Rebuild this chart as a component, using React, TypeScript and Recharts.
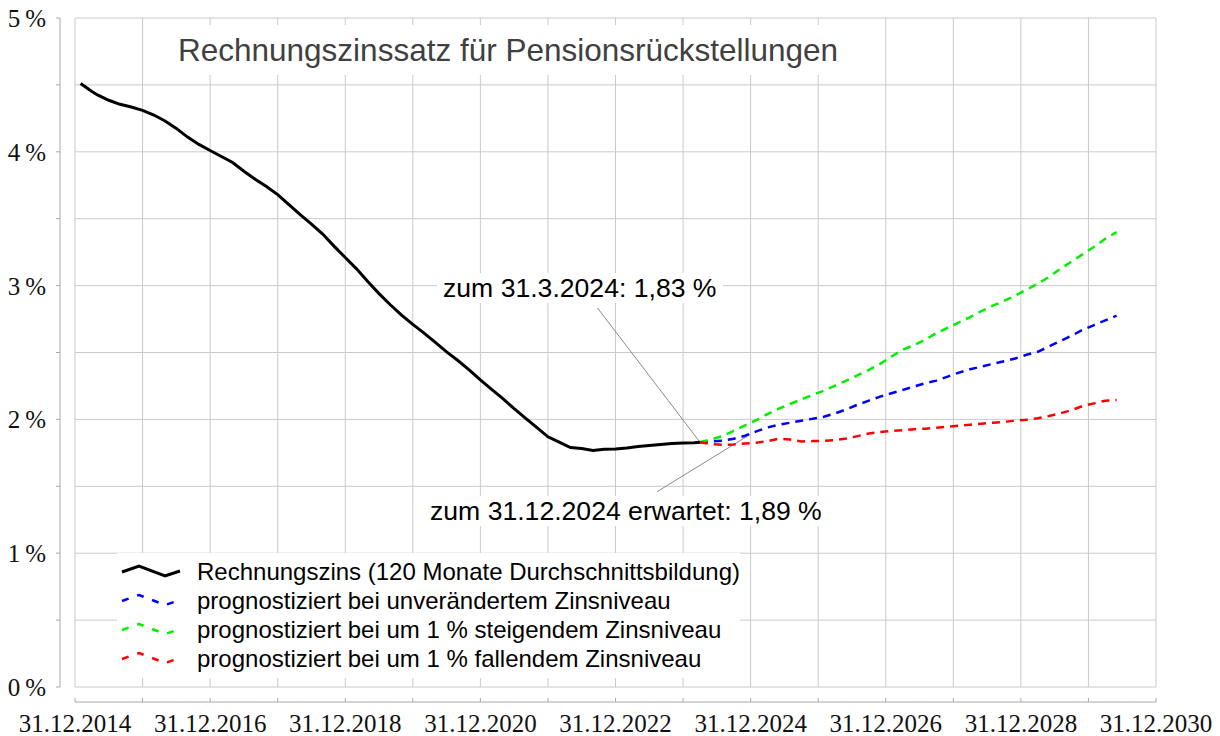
import { Legend, Line, LineChart, ReferenceLine, XAxis, YAxis } from "recharts";

// months after 31.12.2014
const MONTH_TICKS = [0, 12, 24, 36, 48, 60, 72, 84, 96, 108, 120, 132, 144, 156, 168, 180, 192];
const PCT_TICKS = [0, 0.5, 1, 1.5, 2, 2.5, 3, 3.5, 4, 4.5, 5];

const ZINS_MONTHS = [
  1, 2, 3, 4, 6, 8, 10, 12, 14, 16, 18, 20, 22, 24, 26, 28, 30, 32, 34, 36, 38, 40, 42, 44, 46, 48, 50, 52, 54,
  56, 58, 60, 62, 64, 66, 68, 70, 72, 74, 76, 78, 80, 82, 84, 86, 88, 90, 92, 94, 96, 98, 100, 102, 104, 106,
  108, 110, 111,
];
const ZINS_VALUES = [
  4.51, 4.48, 4.45, 4.425, 4.385, 4.355, 4.335, 4.31, 4.275, 4.23, 4.175, 4.11, 4.055, 4.01, 3.965, 3.92, 3.855,
  3.795, 3.74, 3.68, 3.605, 3.53, 3.46, 3.385, 3.295, 3.21, 3.125, 3.03, 2.94, 2.857, 2.78, 2.71, 2.645, 2.575,
  2.505, 2.44, 2.37, 2.295, 2.225, 2.155, 2.08, 2.01, 1.94, 1.87, 1.83, 1.79, 1.783, 1.768, 1.777, 1.779, 1.787,
  1.797, 1.805, 1.812, 1.82, 1.823, 1.826, 1.83,
];

const FORECAST_MONTHS = [
  111, 113, 115, 117, 119, 121, 123, 125, 127, 129, 131, 133, 135, 137, 139, 141, 143, 145, 147, 149, 151, 153,
  155, 157, 159, 161, 163, 165, 167, 169, 171, 173, 175, 177, 179, 181, 183, 185,
];
const UNCHANGED = [
  1.83, 1.835, 1.84, 1.855, 1.878, 1.91, 1.94, 1.96, 1.975, 1.99, 2.005, 2.02, 2.045, 2.075, 2.11, 2.14, 2.17,
  2.195, 2.22, 2.245, 2.27, 2.29, 2.32, 2.35, 2.375, 2.395, 2.415, 2.435, 2.455, 2.483, 2.505, 2.545, 2.585,
  2.625, 2.67, 2.705, 2.74, 2.775,
];
const RISING = [
  1.83, 1.85, 1.875, 1.915, 1.955, 1.995, 2.04, 2.08, 2.115, 2.15, 2.183, 2.215, 2.253, 2.29, 2.33, 2.37, 2.415,
  2.47, 2.52, 2.555, 2.595, 2.645, 2.685, 2.725, 2.765, 2.81, 2.85, 2.885, 2.925, 2.97, 3.015, 3.065, 3.125,
  3.18, 3.235, 3.29, 3.35, 3.4,
];
const FALLING = [
  1.83, 1.815, 1.81, 1.812, 1.82, 1.826, 1.838, 1.855, 1.85, 1.835, 1.838, 1.84, 1.845, 1.857, 1.875, 1.895,
  1.905, 1.913, 1.92, 1.927, 1.93, 1.937, 1.945, 1.953, 1.96, 1.968, 1.975, 1.982, 1.99, 1.998, 2.008, 2.025,
  2.045, 2.07, 2.1, 2.12, 2.14, 2.145,
];

const SERIES = [
  { key: "zins", name: "Rechnungszins (120 Monate Durchschnittsbildung)", color: "#000000", dashed: false },
  { key: "unv", name: "prognostiziert bei unverändertem Zinsniveau", color: "#0000ff", dashed: true },
  { key: "steig", name: "prognostiziert bei um 1 % steigendem Zinsniveau", color: "#00f000", dashed: true },
  { key: "fall", name: "prognostiziert bei um 1 % fallendem Zinsniveau", color: "#ff0000", dashed: true },
];

const zinsData = ZINS_MONTHS.map((m, i) => ({ m, v: ZINS_VALUES[i] }));
const unvData = FORECAST_MONTHS.map((m, i) => ({ m, v: UNCHANGED[i] }));
const steigData = FORECAST_MONTHS.map((m, i) => ({ m, v: RISING[i] }));
const fallData = FORECAST_MONTHS.map((m, i) => ({ m, v: FALLING[i] }));

const W = 1220;
const H = 736;
const MARGIN = { top: 18, right: 64, left: 0, bottom: 0 };
const Y_AXIS_W = 60;
const X_AXIS_H = 34;
const GAP = 15; // axes sit a little away from the plot frame
const PLOT_W = W - MARGIN.left - MARGIN.right - Y_AXIS_W;
const PLOT_H = H - MARGIN.top - MARGIN.bottom - X_AXIS_H;
const X_MAX = 192;
const Y_MAX = 5;
const X_MIN = (-GAP * X_MAX) / (PLOT_W - GAP);
const Y_MIN = (-GAP * Y_MAX) / (PLOT_H - GAP);

const GRID = "#cacaca";
const AXIS = "#a8a8a8";
const SANS = "'Liberation Sans', Arial, sans-serif";
const SERIF = "'Liberation Serif', 'Times New Roman', serif";
const DASH = "8 6";

function PctTick({ x, y, payload }: any) {
  const v = payload.value as number;
  return (
    <g>
      <line x1={x - 4} x2={x} y1={y} y2={y} stroke={AXIS} />
      {Number.isInteger(v) && (
        <text x={x - 14} y={y + 9} textAnchor="end" fontFamily={SERIF} fontSize={25} fill="#111">
          {`${v}\u2009%`}
        </text>
      )}
    </g>
  );
}

function MonthTick({ x, y, payload }: any) {
  const m = payload.value as number;
  return (
    <g>
      <line x1={x} x2={x} y1={y - 4} y2={y} stroke={AXIS} />
      {m % 24 === 0 && (
        <text x={x} y={y + 30} textAnchor="middle" fontFamily={SERIF} fontSize={25} fill="#111">
          {`31.12.${2014 + m / 12}`}
        </text>
      )}
    </g>
  );
}

function LegendBox() {
  return (
    <div style={{ background: "#fff", width: 623, height: 125, paddingTop: 4, boxSizing: "border-box" }}>
      {SERIES.map((s) => (
        <div key={s.key} style={{ display: "flex", alignItems: "center", height: 29 }}>
          <svg width={80} height={29} style={{ flex: "none" }}>
            <polyline
              points="5,15 22,9 48,19 63,14"
              fill="none"
              stroke={s.color}
              strokeWidth={s.dashed ? 2.5 : 3}
              strokeDasharray={s.dashed ? "7 9" : undefined}
            />
          </svg>
          <span style={{ fontFamily: SANS, fontSize: 24, color: "#000", whiteSpace: "nowrap" }}>{s.name}</span>
        </div>
      ))}
    </div>
  );
}

const boxText = { position: "absolute" as const, background: "#fff", fontFamily: SANS, whiteSpace: "nowrap" as const };

export default function App() {
  return (
    <div style={{ position: "absolute", left: 0, top: 0, width: W, height: H, background: "#fff" }}>
      <LineChart width={W} height={H} margin={MARGIN}>
        <XAxis
          dataKey="m"
          type="number"
          domain={[X_MIN, X_MAX]}
          ticks={MONTH_TICKS}
          interval={0}
          height={X_AXIS_H}
          axisLine={false}
          tickLine={false}
          tickSize={0}
          tickMargin={0}
          tick={(p: any) => <MonthTick {...p} />}
          allowDataOverflow
        />
        <YAxis
          type="number"
          domain={[Y_MIN, Y_MAX]}
          ticks={PCT_TICKS}
          interval={0}
          width={Y_AXIS_W}
          axisLine={false}
          tickLine={false}
          tickSize={0}
          tickMargin={0}
          tick={(p: any) => <PctTick {...p} />}
          allowDataOverflow
        />
        {PCT_TICKS.map((v) => (
          <ReferenceLine
            key={`h${v}`}
            segment={[{ x: 0, y: v }, { x: X_MAX, y: v }]}
            stroke={GRID}
            ifOverflow="visible"
            zIndex={-50}
          />
        ))}
        {MONTH_TICKS.map((m) => (
          <ReferenceLine
            key={`v${m}`}
            segment={[{ x: m, y: 0 }, { x: m, y: Y_MAX }]}
            stroke={GRID}
            ifOverflow="visible"
            zIndex={-50}
          />
        ))}
        <ReferenceLine
          segment={[{ x: X_MIN, y: 0 }, { x: X_MIN, y: Y_MAX }]}
          stroke={AXIS}
          ifOverflow="visible"
        />
        <ReferenceLine
          segment={[{ x: 0, y: Y_MIN }, { x: X_MAX, y: Y_MIN }]}
          stroke={AXIS}
          ifOverflow="visible"
        />
        <ReferenceLine
          segment={[{ x: 111, y: 1.83 }, { x: 92.8, y: 2.833 }]}
          stroke="#888"
          ifOverflow="visible"
        />
        <ReferenceLine
          segment={[{ x: 120, y: 1.89 }, { x: 103.4, y: 1.46 }]}
          stroke="#888"
          ifOverflow="visible"
        />
        <Line data={unvData} dataKey="v" name={SERIES[1].name} stroke={SERIES[1].color} strokeWidth={2.5} strokeDasharray={DASH} dot={false} activeDot={false} isAnimationActive={false} />
        <Line data={steigData} dataKey="v" name={SERIES[2].name} stroke={SERIES[2].color} strokeWidth={2.5} strokeDasharray={DASH} dot={false} activeDot={false} isAnimationActive={false} />
        <Line data={fallData} dataKey="v" name={SERIES[3].name} stroke={SERIES[3].color} strokeWidth={2.5} strokeDasharray={DASH} dot={false} activeDot={false} isAnimationActive={false} />
        <Line data={zinsData} dataKey="v" name={SERIES[0].name} stroke={SERIES[0].color} strokeWidth={3} dot={false} activeDot={false} isAnimationActive={false} />
        <Legend
          layout="horizontal"
          verticalAlign="middle"
          align="center"
          wrapperStyle={{ left: 117, top: 553, width: 623, height: 125 }}
          content={() => <LegendBox />}
        />
      </LineChart>
      <div style={{ ...boxText, left: 170, top: 25, height: 50, lineHeight: "50px", padding: "0 8px", fontSize: 31.5, color: "#404040" }}>
        Rechnungszinssatz für Pensionsrückstellungen
      </div>
      <div style={{ ...boxText, left: 437, top: 273, height: 30, lineHeight: "30px", padding: "0 6px", fontSize: 26.6, color: "#000" }}>
        zum 31.3.2024: 1,83 %
      </div>
      <div style={{ ...boxText, left: 424, top: 496, height: 30, lineHeight: "30px", padding: "0 6px", fontSize: 26.6, color: "#000" }}>
        zum 31.12.2024 erwartet: 1,89 %
      </div>
    </div>
  );
}
